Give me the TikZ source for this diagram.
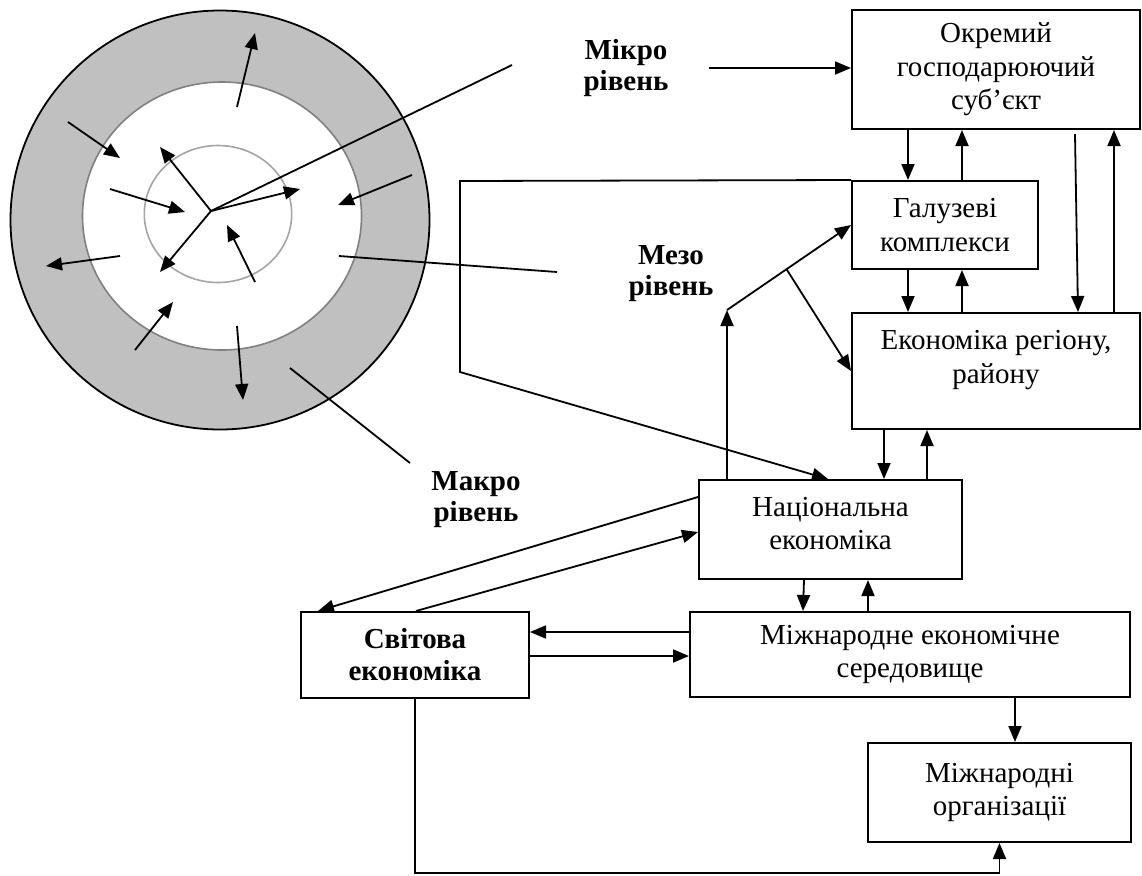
\documentclass[tikz,border=0pt]{standalone}
\usepackage{fontspec}
\setmainfont{Liberation Serif}
\usetikzlibrary{arrows.meta}

\definecolor{ringgray}{RGB}{192,192,192}
\definecolor{midgray}{RGB}{128,128,128}
\definecolor{coregray}{RGB}{165,165,165}

\begin{document}
\begin{tikzpicture}[%
  x = 0.5pt, y = -0.5pt,
  unit/.style    = {rectangle, draw, line width=1pt, align=center,
                    inner sep=0pt, font=\fontsize{14.5}{16.8}\selectfont},
  strong/.style  = {font=\fontsize{14.5}{16}\selectfont\bfseries},
  lvltext/.style = {align=center, font=\fontsize{14.5}{15.5}\selectfont\bfseries},
  flow/.style    = {-{Triangle[length=8pt, width=6.5pt]}, line width=.9pt},
  pointer/.style = {line width=.9pt}
]
  \useasboundingbox (0,0) rectangle (1142,875);

  % rings of the levels
  \draw[fill=ringgray, line width=.9pt] (220,220) circle [radius=104.75pt];
  \draw[fill=white, draw=midgray, line width=.8pt] (222,216)
        ellipse [x radius=69.75pt, y radius=67pt];
  \draw[draw=coregray, line width=.8pt] (218,214)
        ellipse [x radius=36.85pt, y radius=34.25pt];

  % arrows inside the rings
  \foreach \xa/\ya/\xb/\yb in {237/107/255/33, 68/122/120/158,
                               110/189/185/212, 412/175/338/205,
                               120/256/46/266, 135/350/173/302,
                               237/326/243/400, 211/211/160/147,
                               211/211/300/189, 211/211/160/272,
                               255/282/227/225}
    \draw[flow] (\xa,\ya) -- (\xb,\yb);

  % pointers to the labels
  \draw[pointer] (211,211) -- (512,65);
  \draw[pointer] (339,256) -- (557,272);
  \draw[pointer] (290,368) -- (410,463);

  \node[lvltext] (mikro) at (626,68)  {Мікро\\ рівень};
  \node[lvltext] (mezo)  at (671,274) {Мезо\\ рівень};
  \node[lvltext] (makro) at (476,500) {Макро\\ рівень};

  % boxes
  \node[unit, minimum width=144pt, minimum height=59.5pt] (subj)
        at (996,69.5) {Окремий\\ господарюючий\\ суб’єкт};
  \node[unit, minimum width=93pt, minimum height=44pt] (branch)
        at (945,225) {Галузеві\\ комплекси};
  \node[unit, minimum width=144pt, minimum height=58pt, text depth=14pt]
        (region) at (996,371) {Економіка регіону,\\ району};
  \node[unit, minimum width=131.5pt, minimum height=49.5pt, text depth=6pt]
        (nat) at (830.5,529.5) {Національна\\ економіка};
  \node[unit, strong, minimum width=114pt, minimum height=43pt] (world)
        at (415,655) {Світова\\ економіка};
  \node[unit, minimum width=220pt, minimum height=42.5pt] (env)
        at (910,654.5) {Міжнародне економічне\\ середовище};
  \node[unit, minimum width=131.5pt, minimum height=49.5pt] (orgs)
        at (999.5,792.5) {Міжнародні\\ організації};

  % free ends
  \coordinate (mikrotail) at (709,68);
  \coordinate (subjdrop)  at (1075,134);
  \coordinate (mesotip)   at (727,310);

  % connections
  \draw[flow] (mikrotail) -- (subj.west |- mikrotail);

  \draw[flow] (908,0 |- subj.south)   -- (908,0 |- branch.north);
  \draw[flow] (962,0 |- branch.north) -- (962,0 |- subj.south);
  \draw[flow] (908,0 |- branch.south) -- (908,0 |- region.north);
  \draw[flow] (962,0 |- region.north) -- (962,0 |- branch.south);
  \draw[flow] (subjdrop) -- (1078,0 |- region.north);
  \draw[flow] (1114,0 |- region.north) -- (1114,0 |- subj.south);

  \draw[flow] (884,0 |- region.south) -- (884,0 |- nat.north);
  \draw[flow] (927,0 |- nat.north)    -- (927,0 |- region.south);
  \draw[flow] (804,0 |- nat.south)    -- (803,0 |- env.north);
  \draw[flow] (868,0 |- env.north)    -- (868,0 |- nat.south);
  \draw[flow] (1015,0 |- env.south)   -- (1015,0 |- orgs.north);

  \draw[flow] (branch.north west) -- (460,181) -- (460,372)
              -- (828,0 |- nat.north);

  \draw[flow] (727,0 |- nat.north) -- (mesotip);
  \draw[flow] (mesotip) -- coordinate[pos=.48] (fork) (branch.west);
  \draw[flow] (fork) -- (region.west);

  \draw[flow] (nat.west |- 0,497) -- (318,0 |- world.north);
  \draw[flow] (416,0 |- world.north) -- (nat.west |- 0,532);

  \draw[flow] (env.west |- 0,632) -- (world.east |- 0,632);
  \draw[flow] (world.east |- 0,656) -- (env.west |- 0,656);

  \draw[flow] (415,0 |- world.south) -- (415,873) -| (orgs.south);

\end{tikzpicture}
\end{document}
